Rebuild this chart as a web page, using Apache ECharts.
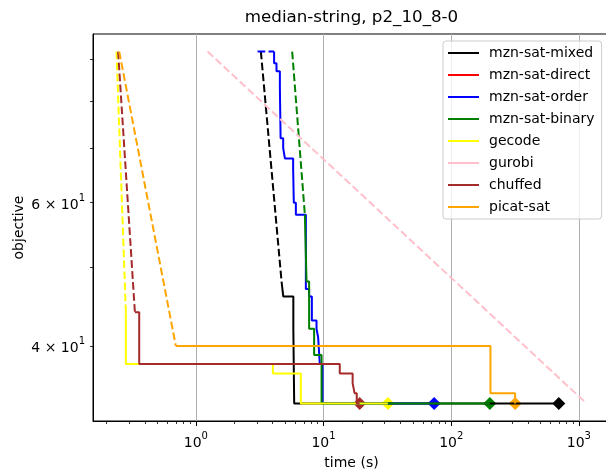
<!DOCTYPE html>
<html><head><meta charset="utf-8">
<script src="https://cdn.jsdelivr.net/npm/echarts@6/dist/echarts.min.js"></script>
<style>html,body{margin:0;padding:0;background:#fff}#c{width:606px;height:471px}</style>
</head><body><div id="c"></div>
<script>
// ---------- data ----------
const solverNames  = ['mzn-sat-mixed','mzn-sat-direct','mzn-sat-order','mzn-sat-binary','gecode','gurobi','chuffed','picat-sat'];
const solverColors = ['#000000','#ff0000','#0000ff','#008000','#ffff00','#ffc0cb','#a52a2a','#ffa500'];

// dashed lead-in segments (time s, objective)
const mixedDashT  = [3.23, 4.69];   const mixedDashV  = [92, 48];
const orderDashT  = [3.04, 4.10];   const orderDashV  = [92, 92];
const binaryDashT = [5.68, 7.14];   const binaryDashV = [92, 58];
const gecodeDashT = [0.239, 0.283]; const gecodeDashV = [92, 44];
const gurobiDashT = [1.235, 1147];  const gurobiDashV = [92, 34];
const chuffedDashT= [0.246, 0.333]; const chuffedDashV= [92, 44];
const picatDashT  = [0.251, 0.697]; const picatDashV  = [92, 40];

// solid step parts (post-step)
const mixedStepT  = [4.69, 4.84, 5.80, 5.89, 696];
const mixedStepV  = [48, 46, 42, 34, 34];
const orderStepT  = [4.10, 4.10, 4.28, 4.55, 4.61, 4.83, 4.98, 5.78, 5.85, 6.07, 7.27, 7.71, 8.10, 8.81, 9.07, 9.35, 9.82, 73.5];
const orderStepV  = [92, 89, 87, 83, 72, 70, 68, 66, 60, 58, 47, 46, 43, 42, 41, 38, 34, 34];
const binaryStepT = [7.14, 7.36, 7.71, 8.44, 9.65, 200.6];
const binaryStepV = [58, 48, 42, 39, 34, 34];
const gecodeStepT = [0.283, 0.283, 4.01, 6.64, 31.9];
const gecodeStepV = [44, 38, 37, 34, 34];
const chuffedStepT= [0.333, 0.36, 13.4, 16.9, 17.5, 18.2, 19.2];
const chuffedStepV= [44, 38, 37, 36, 35, 34, 34];
const picatStepT  = [0.697, 203, 316.6];
const picatStepV  = [40, 35, 34];

// axis ticks
const xMajorTicks = [1, 10, 100, 1000];
const xMinorTicks = [0.2,0.3,0.4,0.5,0.6,0.7,0.8,0.9, 2,3,4,5,6,7,8,9, 20,30,40,50,60,70,80,90, 200,300,400,500,600,700,800,900];
const yTicks  = [40, 50, 60, 70, 80, 90];
const yLabels = [40, 60];

// ---------- build ----------
const groups = [
  {d:[mixedDashT, mixedDashV],   s:[mixedStepT, mixedStepV]},
  {d:null, s:null},
  {d:[orderDashT, orderDashV],   s:[orderStepT, orderStepV]},
  {d:[binaryDashT, binaryDashV], s:[binaryStepT, binaryStepV]},
  {d:[gecodeDashT, gecodeDashV], s:[gecodeStepT, gecodeStepV]},
  {d:[gurobiDashT, gurobiDashV], s:null},
  {d:[chuffedDashT, chuffedDashV], s:[chuffedStepT, chuffedStepV]},
  {d:[picatDashT, picatDashV],   s:[picatStepT, picatStepV]}
];
const zip = (T, V) => T.map((t, i) => [t, V[i]]);
const series = [];
let allT = [], allV = [];
groups.forEach((g, i) => {
  const name = solverNames[i], color = solverColors[i];
  if (!g.d && !g.s) {
    series.push({name, type:'line', color, data:[], showSymbol:false});
    return;
  }
  if (g.d) {
    allT = allT.concat(g.d[0]); allV = allV.concat(g.d[1]);
    series.push({name, type:'line', color, data:zip(g.d[0], g.d[1]), showSymbol:false,
      lineStyle:{width:2, type:[7.7, 3.3], color, opacity:1}, silent:true});
  }
  if (g.s) {
    allT = allT.concat(g.s[0]); allV = allV.concat(g.s[1]);
    series.push({name, type:'line', color, step:'end', data:zip(g.s[0], g.s[1]), showSymbol:false,
      lineStyle:{width:2, color, opacity:1}, silent:true});
    const n = g.s[0].length - 1;
    series.push({name, type:'scatter', color, symbol:'diamond', symbolSize:13,
      data:[[g.s[0][n], g.s[1][n]]], itemStyle:{color, opacity:1}, silent:true});
  }
});
// matplotlib-style 5% margins in log space
function logRange(arr) {
  const lo = Math.log10(Math.min(...arr)), hi = Math.log10(Math.max(...arr));
  const m = (hi - lo) * 0.05;
  return [Math.pow(10, lo - m), Math.pow(10, hi + m)];
}
const xr = logRange(allT), yr = logRange(allV);

const font = 'DejaVu Sans';
const supRich = {
  b: {fontFamily:font, fontSize:14, color:'#000', verticalAlign:'bottom', lineHeight:19},
  s: {fontFamily:font, fontSize:10, color:'#000', verticalAlign:'top', lineHeight:19}
};

const chart = echarts.init(document.getElementById('c'), null, {renderer:'canvas'});
chart.setOption({
  animation:false,
  backgroundColor:'#fff',
  title:{text:'median-string, p2_10_8-0', left:351.5, top:9, textAlign:'center', padding:0,
    textStyle:{fontFamily:font, fontSize:16.7, fontWeight:'normal', color:'#000'}},
  grid:{left:93, top:34, width:517, height:387, show:true, borderColor:'#000', borderWidth:1,
    backgroundColor:'transparent', containLabel:false, outerBoundsMode:'none'},
  legend:{
    orient:'vertical', left:443, top:41, selectedMode:false,
    data: solverNames.map(n => ({name:n, icon:'rect'})),
    itemWidth:31, itemHeight:2, itemGap:6,
    padding:[4, 7, 4, 5],
    itemStyle:{borderWidth:0, opacity:1},
    textStyle:{fontFamily:font, fontSize:14, color:'#000', lineHeight:16, padding:[0,0,0,5]},
    backgroundColor:'rgba(255,255,255,0.8)', borderColor:'#cccccc', borderWidth:1, borderRadius:3
  },
  xAxis:[
    {type:'log', min:xr[0], max:xr[1], position:'bottom',
      name:'time (s)', nameLocation:'middle', nameGap:35, nameMoveOverlap:false,
      nameTextStyle:{fontFamily:font, fontSize:14, color:'#000'},
      axisLine:{show:true, lineStyle:{color:'#000', width:1}},
      axisTick:{show:true, length:5, customValues:xMajorTicks, lineStyle:{color:'#000', width:1}},
      axisLabel:{show:true, margin:10, customValues:xMajorTicks,
        formatter:(v)=>'{b|10}{s|' + Math.round(Math.log10(v)) + '}', rich:supRich},
      splitLine:{show:true, lineStyle:{color:'#b0b0b0', width:1}},
      minorTick:{show:false}, minorSplitLine:{show:false}},
    {type:'log', min:xr[0], max:xr[1], position:'bottom', gridIndex:0,
      axisLine:{show:false},
      axisTick:{show:true, length:3, customValues:xMinorTicks, lineStyle:{color:'#000', width:0.8}},
      axisLabel:{show:false}, splitLine:{show:false}}
  ],
  yAxis:[
    {type:'log', min:yr[0], max:yr[1], position:'left',
      name:'objective', nameLocation:'middle', nameGap:67, nameRotate:90, nameMoveOverlap:false,
      nameTextStyle:{fontFamily:font, fontSize:14, color:'#000'},
      axisLine:{show:true, lineStyle:{color:'#000', width:1}},
      axisTick:{show:true, length:3, customValues:yTicks, lineStyle:{color:'#000', width:0.8}},
      axisLabel:{show:true, margin:8, customValues:yLabels,
        formatter:(v)=>{const e=Math.floor(Math.log10(v)+1e-9); const m=Math.round(v/Math.pow(10,e));
          return '{b|' + m + ' × 10}{s|' + e + '}';}, rich:supRich},
      splitLine:{show:false}, minorTick:{show:false}}
  ],
  series
});
</script></body></html>
